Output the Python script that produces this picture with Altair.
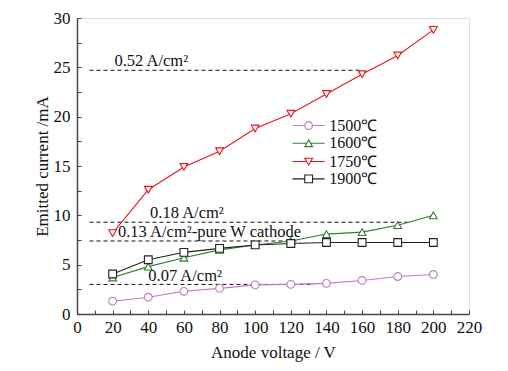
import altair as alt
import pandas as pd

voltage = [20, 40, 60, 80, 100, 120, 140, 160, 180, 200]
i1500 = [1.3, 1.7, 2.3, 2.6, 2.95, 3.0, 3.1, 3.4, 3.8, 4.0]
i1600 = [3.7, 4.8, 5.7, 6.5, 7.0, 7.4, 8.1, 8.3, 9.0, 10.0]
i1750 = [8.2, 12.6, 14.9, 16.5, 18.8, 20.3, 22.3, 24.3, 26.2, 28.8]
i1900 = [4.05, 5.5, 6.25, 6.65, 7.0, 7.15, 7.25, 7.25, 7.25, 7.25]
series = ["1500℃", "1600℃", "1750℃", "1900℃"]
colors = ["#c07ac0", "#2f7d2f", "#e5161e", "#222222"]
shapes = ["circle", "triangle-up", "triangle-down", "square"]

ref_labels = ["0.52 A/cm²", "0.18 A/cm²", "0.13 A/cm²-pure W cathode", "0.07 A/cm²"]
ref_y = [24.7, 9.3, 7.4, 3.0]
ref_x_start = [7, 7, 7, 7]
ref_x_end = [159, 187, 125, 133]
label_x = [21, 41, 23, 40]
label_y = [25.1, 9.7, 7.8, 3.35]

legend_y = [19.1, 17.3, 15.45, 13.7]
legend_x0, legend_xm, legend_x1, legend_xt = 121, 130, 139, 141.6

x_ticks = list(range(0, 221, 20))
x_minor = list(range(0, 221, 10))
y_ticks = [0, 5, 10, 15, 20, 25, 30]
y_minor = [i * 2.5 for i in range(13)]

rows = []
for s, vals in zip(series, [i1500, i1600, i1750, i1900]):
    for v, c in zip(voltage, vals):
        rows.append({"V": v, "I": c, "T": s})
df = pd.DataFrame(rows)

ref_df = pd.DataFrame({"x": ref_x_start, "x2": ref_x_end, "y": ref_y,
                       "lx": label_x, "ly": label_y, "label": ref_labels})
leg_df = pd.DataFrame({"T": series, "y": legend_y,
                       "x0": [legend_x0] * 4, "xm": [legend_xm] * 4,
                       "x1": [legend_x1] * 4, "xt": [legend_xt] * 4})

FONT = "Liberation Serif"
W, H = 392, 296
xs = alt.Scale(domain=[0, 220], nice=False, zero=False)
ys = alt.Scale(domain=[0, 30], nice=False, zero=False)
cs = alt.Scale(domain=series, range=colors)
ss = alt.Scale(domain=series, range=shapes)

ax_x = alt.Axis(values=x_ticks, tickSize=0, title="Anode voltage / V",
                labelFont=FONT, labelFontSize=17, titleFont=FONT,
                titleFontSize=17, titleFontWeight="normal",
                labelColor="#111", titleColor="#111",
                labelPadding=5, titlePadding=9, grid=False,
                labelOverlap=False, labelFlush=False,
                domainColor="#444", domainWidth=1.5)
ax_y = alt.Axis(values=y_ticks, tickSize=0, title="Emitted current /mA",
                labelFont=FONT, labelFontSize=17, titleFont=FONT,
                titleFontSize=17, titleFontWeight="normal",
                labelColor="#111", titleColor="#111",
                labelPadding=7, titlePadding=2, grid=False,
                labelOverlap=False, labelFlush=False,
                domainColor="#444", domainWidth=1.5)


def X(f):
    return alt.X(f, scale=xs, axis=ax_x)


def Y(f):
    return alt.Y(f, scale=ys, axis=ax_y)


lines = alt.Chart(df).mark_line(strokeWidth=1.1).encode(
    x=X("V:Q"), y=Y("I:Q"),
    color=alt.Color("T:N", scale=cs, legend=None), detail="T:N")
points = alt.Chart(df).mark_point(filled=True, fill="white", size=60, strokeWidth=1.1, opacity=1).encode(
    x=X("V:Q"), y=Y("I:Q"),
    stroke=alt.Stroke("T:N", scale=cs, legend=None),
    shape=alt.Shape("T:N", scale=ss, legend=None))

rules = alt.Chart(ref_df).mark_rule(strokeDash=[4, 3], color="#111", strokeWidth=1).encode(
    x=X("x:Q"), x2="x2:Q", y=Y("y:Q"))
rtext = alt.Chart(ref_df).mark_text(font=FONT, fontSize=16.5, align="left", baseline="alphabetic",
                                    color="#111").encode(x=X("lx:Q"), y=Y("ly:Q"), text="label:N")

leg_lines = alt.Chart(leg_df).mark_rule(strokeWidth=1.1).encode(
    x=X("x0:Q"), x2="x1:Q", y=Y("y:Q"), color=alt.Color("T:N", scale=cs, legend=None))
leg_pts = alt.Chart(leg_df).mark_point(filled=True, fill="white", size=60, strokeWidth=1.1, opacity=1).encode(
    x=X("xm:Q"), y=Y("y:Q"),
    stroke=alt.Stroke("T:N", scale=cs, legend=None),
    shape=alt.Shape("T:N", scale=ss, legend=None))
leg_text = alt.Chart(leg_df).mark_text(font=FONT, fontSize=16, align="left", baseline="middle",
                                       color="#111").encode(x=X("xt:Q"), y=Y("y:Q"), text="T:N")

content = alt.layer(rules, lines, points, rtext, leg_lines, leg_pts, leg_text)

tick_layer = alt.Chart(df).mark_point(opacity=0).encode(
    x=alt.X("V:Q", scale=xs, axis=alt.Axis(orient="top", offset=-H, values=x_minor, tickSize=4,
                                           labels=False, title=None, domain=False, grid=False,
                                           tickColor="#444", tickWidth=1)),
    y=alt.Y("I:Q", scale=ys, axis=alt.Axis(orient="right", offset=-W, values=y_minor, tickSize=4,
                                           labels=False, title=None, domain=False, grid=False,
                                           tickColor="#444", tickWidth=1)))

chart = alt.layer(content, tick_layer).resolve_axis(x="independent", y="independent").properties(
    width=W, height=H,
    autosize=alt.AutoSizeParams(type="none"),
    padding={"left": 69, "top": 10, "right": 30, "bottom": 60},
).configure_view(stroke="#555", strokeWidth=1.5).configure(background="white")

chart.save("out.html", embed_options={"renderer": "svg", "actions": False})
